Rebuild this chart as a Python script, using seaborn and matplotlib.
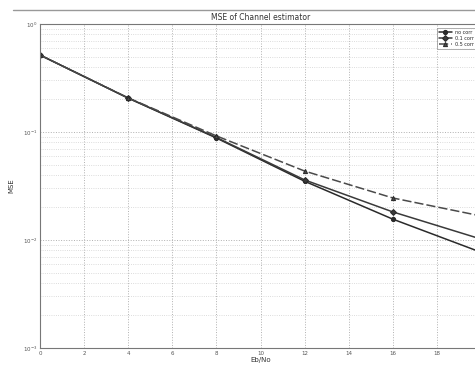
import numpy as np
import pandas as pd
import matplotlib
matplotlib.use("Agg")
import matplotlib.pyplot as plt
import seaborn as sns
from matplotlib.lines import Line2D
from matplotlib.ticker import LogLocator, NullFormatter, FixedLocator

# Data
ebno = [0, 4, 8, 12, 16, 20]
mse_no_corr = [0.516, 0.206, 0.088, 0.035, 0.0156, 0.0077]
mse_01_corr = [0.516, 0.206, 0.089, 0.036, 0.0182, 0.0102]
mse_05_corr = [0.516, 0.207, 0.092, 0.0435, 0.0245, 0.0167]
series_names = ["no corr", "0.1 corr", "0.5 corr"]
x_ticks = [0, 2, 4, 6, 8, 10, 12, 14, 16, 18]

df = pd.concat([
    pd.DataFrame({"Eb/No": ebno, "MSE": vals, "series": name})
    for name, vals in zip(series_names, [mse_no_corr, mse_01_corr, mse_05_corr])
])

sns.set_style("white")
plt.rcParams["font.family"] = ["DejaVu Sans"]

fig = plt.figure(figsize=(4.75, 3.68), dpi=100)
ax = fig.add_axes([40 / 475, 20 / 368, 441 / 475, 324 / 368])

sns.lineplot(data=df, x="Eb/No", y="MSE", hue="series", style="series",
             palette=["#2a2a2a", "#3a3a3a", "#4a4a4a"],
             markers=["o", "D", "^"], dashes=[(None, None), (None, None), (6, 2)],
             linewidth=1.1, markersize=3, markeredgecolor="#2a2a2a",
             ax=ax, legend=True)

ax.set_yscale("log")
ax.set_xlim(0, 20)
ax.set_ylim(1e-3, 1e0)
ax.xaxis.set_major_locator(FixedLocator(x_ticks))
ax.yaxis.set_major_locator(LogLocator(base=10, numticks=10))
ax.yaxis.set_minor_locator(LogLocator(base=10, subs=np.arange(2, 10), numticks=20))
ax.yaxis.set_minor_formatter(NullFormatter())
ax.tick_params(axis="both", which="major", labelsize=4, colors="#555555",
               direction="in", length=3, pad=2)
ax.tick_params(axis="y", which="minor", direction="in", length=1.5, colors="#777777")
ax.grid(True, which="major", color="#b0b0b0", linestyle=":", linewidth=0.7)
ax.grid(True, which="minor", axis="y", color="#d0d0d0", linestyle=":", linewidth=0.6)
for s in ax.spines.values():
    s.set_color("#777777")
    s.set_linewidth(0.8)

ax.set_title("MSE of Channel estimator", fontsize=5.5, color="#333333", pad=3)
ax.set_xlabel("Eb/No", fontsize=5, color="#333333", labelpad=1)
ax.set_ylabel("MSE", fontsize=5, color="#333333", labelpad=6)

leg = ax.legend(loc="upper right", bbox_to_anchor=(0.995, 0.995), fontsize=3.5,
                frameon=True, fancybox=False, edgecolor="#888888",
                handlelength=2.5, borderpad=0.4, labelspacing=0.2)
leg.get_frame().set_linewidth(0.6)

fig.add_artist(Line2D([13 / 475, 1.0], [1 - 10 / 368, 1 - 10 / 368],
                      color="#999999", linewidth=1.0))

fig.savefig("out.png", dpi=100)
